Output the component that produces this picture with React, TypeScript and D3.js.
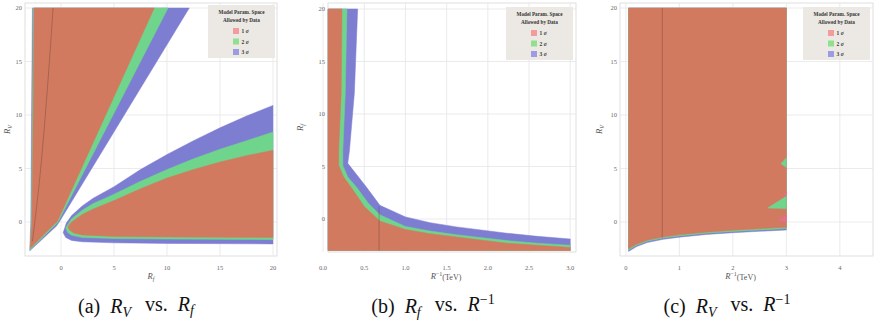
import React from "react";
import * as d3 from "d3";

type P = [number, number];

// ---------- Data ----------
const sigmaLabels = ["1 σ", "2 σ", "3 σ"];
const legendTitle = ["Model Param. Space", "Allowed by Data"];

// Panel (a): R_V vs R_f
const aTicksX = [0, 5, 10, 15, 20];
const aTicksY = [0, 5, 10, 15, 20];
const aWedgeBlue: P[] = [[-2.7, 20], [12.1, 20], [-0.2, -0.05], [-0.45, -0.4], [-2.95, -2.7], [-2.85, 0], [-2.78, 10]];
const aWedgeGreen: P[] = [[-2.62, 20], [10.1, 20], [-0.28, 0.0], [-0.55, -0.3], [-2.92, -2.6], [-2.8, 0], [-2.7, 10]];
const aWedgeRed: P[] = [[-2.55, 20], [8.8, 20], [-0.35, 0.05], [-0.62, -0.2], [-2.9, -2.45], [-2.75, 0], [-2.63, 10]];
const aLobeBlue: P[] = [[0.2, -1.0], [0.5, -0.1], [1, 0.6], [2, 1.5], [3, 2.2], [5, 3.3], [7.5, 4.9], [10, 6.3], [12.5, 7.6], [15, 8.8], [17.5, 9.9], [20, 10.9], [20, -2.05], [10, -2.0], [5, -1.95], [2, -1.85], [1, -1.72], [0.45, -1.45]];
const aLobeGreen: P[] = [[0.45, -0.55], [1, 0.3], [2, 1.1], [3, 1.7], [5, 2.6], [7.5, 3.8], [10, 4.9], [12.5, 5.9], [15, 6.8], [17.5, 7.6], [20, 8.4], [20, -1.65], [10, -1.6], [5, -1.55], [2, -1.45], [1, -1.25], [0.6, -0.95]];
const aLobeRed: P[] = [[0.65, -0.45], [1, 0.0], [2, 0.7], [3, 1.2], [5, 2.0], [7.5, 3.1], [10, 4.1], [12.5, 4.9], [15, 5.6], [17.5, 6.2], [20, 6.7], [20, -1.45], [10, -1.4], [5, -1.35], [2, -1.22], [1.2, -1.02], [0.8, -0.75]];
const aDarkLine: P[] = [[-0.75, 20], [-1.3, 12], [-1.9, 5], [-2.3, 1.4], [-2.7, -1.8]];

// Panel (b): R_f vs R^-1
const bTicksX = [0, 0.5, 1.0, 1.5, 2.0, 2.5, 3.0];
const bTicksY = [0, 5, 10, 15, 20];
const bBlue: P[] = [[0.06, 20], [0.42, 20], [0.38, 12], [0.32, 6.5], [0.3, 5.3], [0.4, 4.3], [0.53, 3.0], [0.69, 1.3], [1.0, 0.2], [1.3, -0.35], [1.62, -0.75], [2.23, -1.35], [2.6, -1.65], [3.0, -1.9], [3.0, -3.0], [0.06, -3.0]];
const bGreen: P[] = [[0.06, 20], [0.29, 20], [0.27, 12], [0.24, 6.5], [0.24, 5.1], [0.3, 4.0], [0.41, 3.0], [0.55, 1.5], [0.69, 0.4], [1.0, -0.7], [1.3, -1.15], [1.62, -1.5], [2.23, -2.05], [2.6, -2.3], [3.0, -2.5], [3.0, -3.0], [0.06, -3.0]];
const bRed: P[] = [[0.06, 20], [0.23, 20], [0.22, 12], [0.19, 6.5], [0.19, 5.1], [0.25, 4.0], [0.36, 2.8], [0.5, 1.2], [0.69, -0.2], [1.0, -1.0], [1.3, -1.4], [1.62, -1.7], [2.23, -2.3], [2.6, -2.5], [3.0, -2.7], [3.0, -3.0], [0.06, -3.0]];
const bDarkLine: P[] = [[0.68, -3.0], [0.68, 1.2]];

// Panel (c): R_V vs R^-1
const cTicksX = [0, 1, 2, 3, 4];
const cTicksY = [0, 5, 10, 15, 20];
const cBlue: P[] = [[0.05, 20], [3.0, 20], [3.0, -0.75], [2.5, -0.87], [2.0, -1.0], [1.5, -1.17], [1.0, -1.42], [0.7, -1.62], [0.4, -1.92], [0.2, -2.3], [0.05, -2.75]];
const cGreen: P[] = [[0.05, 20], [3.0, 20], [3.0, -0.62], [2.5, -0.75], [2.0, -0.88], [1.5, -1.05], [1.0, -1.3], [0.7, -1.5], [0.4, -1.8], [0.2, -2.18], [0.05, -2.62]];
const cRed: P[] = [[0.05, 20], [3.0, 20], [3.0, -0.5], [2.5, -0.63], [2.0, -0.77], [1.5, -0.95], [1.0, -1.2], [0.7, -1.4], [0.4, -1.7], [0.2, -2.07], [0.05, -2.5]];
const cGreenPatch1: P[] = [[2.9, 5.45], [3.0, 6.0], [3.0, 5.1]];
const cGreenPatch2: P[] = [[2.65, 1.3], [3.0, 2.4], [3.0, 1.25]];
const cPinkPatch1: P[] = [[2.85, 0.15], [3.0, 0.65], [3.0, 0.0]];
const cPinkPatch2: P[] = [[2.95, 2.55], [3.0, 2.8], [3.0, 2.45]];
const cDarkLine: P[] = [[0.68, 20], [0.68, -1.45]];

// ---------- Styling ----------
const RED = "#d27a60";
const GREEN = "#6fd48c";
const BLUE = "#7d7dd2";
const PINK = "#e46f8c";
const SW = ["#f29c9c", "#8fe08f", "#9c9ce2"];
const GRID = "#e6e6e6";
const FRAME = "#d8d8d8";
const TICK = "#6a6a6a";
const SERIF = "'Liberation Serif', 'Times New Roman', 'DejaVu Serif', serif";

type Region = { pts: P[]; fill: string };
type PanelCfg = {
  xDom: [number, number]; xRange: [number, number];
  yDom: [number, number]; yRange: [number, number];
  ticksX: number[]; ticksY: number[]; fmtX: (v: number) => string;
  regions: Region[]; darkLines: P[][];
  legend: [number, number];
  xLabel: "Rf" | "Rinv"; yLabel: "RV" | "Rf";
  yLabelX: number;
  caption: [number, string, string];
};

const panels: PanelCfg[] = [
  {
    xDom: [-3.4, 20.38], xRange: [25, 277], yDom: [-3.18, 20.47], yRange: [256, 3],
    ticksX: aTicksX, ticksY: aTicksY, fmtX: (v) => String(v),
    regions: [
      { pts: aWedgeBlue, fill: BLUE }, { pts: aWedgeGreen, fill: GREEN }, { pts: aWedgeRed, fill: RED },
      { pts: aLobeBlue, fill: BLUE }, { pts: aLobeGreen, fill: GREEN }, { pts: aLobeRed, fill: RED },
    ],
    darkLines: [aDarkLine], legend: [208, 5], xLabel: "Rf", yLabel: "RV", yLabelX: 10,
    caption: [138, "(a) ", "a"],
  },
  {
    xDom: [0.06, 3.07], xRange: [328, 576], yDom: [-3.14, 20.57], yRange: [252, 3],
    ticksX: bTicksX, ticksY: bTicksY, fmtX: (v) => v.toFixed(1),
    regions: [{ pts: bBlue, fill: BLUE }, { pts: bGreen, fill: GREEN }, { pts: bRed, fill: RED }],
    darkLines: [bDarkLine], legend: [506, 7], xLabel: "Rinv", yLabel: "Rf", yLabelX: 303,
    caption: [433, "(b) ", "b"],
  },
  {
    xDom: [-0.11, 4.62], xRange: [620, 873], yDom: [-3.18, 20.47], yRange: [256, 3],
    ticksX: cTicksX, ticksY: cTicksY, fmtX: (v) => String(v),
    regions: [
      { pts: cBlue, fill: BLUE }, { pts: cGreen, fill: GREEN }, { pts: cRed, fill: RED },
      { pts: cGreenPatch1, fill: GREEN }, { pts: cGreenPatch2, fill: GREEN },
      { pts: cPinkPatch1, fill: PINK }, { pts: cPinkPatch2, fill: PINK },
    ],
    darkLines: [cDarkLine], legend: [803, 7], xLabel: "Rinv", yLabel: "RV", yLabelX: 602,
    caption: [727, "(c) ", "c"],
  },
];

function Sym({ which }: { which: "RV" | "Rf" | "Rinv" }) {
  if (which === "RV")
    return (<><tspan fontStyle="italic">R</tspan><tspan fontStyle="italic" fontSize="0.72em" dy="0.25em">V</tspan></>);
  if (which === "Rf")
    return (<><tspan fontStyle="italic">R</tspan><tspan fontStyle="italic" fontSize="0.72em" dy="0.25em">f</tspan></>);
  return (<><tspan fontStyle="italic">R</tspan><tspan fontSize="0.72em" dy="-0.45em">−1</tspan></>);
}

function Panel({ cfg }: { cfg: PanelCfg }) {
  const x = d3.scaleLinear().domain(cfg.xDom).range(cfg.xRange);
  const y = d3.scaleLinear().domain(cfg.yDom).range(cfg.yRange);
  const area = d3.line<P>().x((d) => x(d[0])).y((d) => y(d[1])).curve(d3.curveLinearClosed);
  const line = d3.line<P>().x((d) => x(d[0])).y((d) => y(d[1])).curve(d3.curveBasis);
  const [x0, x1] = cfg.xRange;
  const [y0, y1] = cfg.yRange;
  const [lx, ly] = cfg.legend;
  const cx = (x0 + x1) / 2;
  const ff = { fontFamily: SERIF };
  return (
    <g>
      <rect x={x0} y={y1} width={x1 - x0} height={y0 - y1} fill="#fff" stroke={FRAME} strokeWidth={0.8} />
      {cfg.ticksX.map((t) => (
        <line key={"gx" + t} x1={x(t)} x2={x(t)} y1={y1} y2={y0} stroke={GRID} strokeWidth={0.8} />
      ))}
      {cfg.ticksY.map((t) => (
        <line key={"gy" + t} x1={x0} x2={x1} y1={y(t)} y2={y(t)} stroke={GRID} strokeWidth={0.8} />
      ))}
      {cfg.regions.map((r, i) => (
        <path key={"r" + i} d={area(r.pts) || ""} fill={r.fill} stroke={r.fill} strokeWidth={0.5} />
      ))}
      {cfg.darkLines.map((l, i) => (
        <path key={"dl" + i} d={line(l) || ""} fill="none" stroke="#5a3a30" strokeOpacity={0.4} strokeWidth={0.9} />
      ))}
      {cfg.ticksX.map((t) => (
        <text key={"tx" + t} x={x(t)} y={269.5} fontSize={6.5} fill={TICK} textAnchor="middle" style={ff}>
          {cfg.fmtX(t)}
        </text>
      ))}
      {cfg.ticksY.map((t) => (
        <text key={"ty" + t} x={x0 - 3} y={y(t) + 2.3} fontSize={6.5} fill={TICK} textAnchor="end" style={ff}>
          {t}
        </text>
      ))}
      <text x={cx - (cfg.xLabel === "Rinv" ? 6 : 0)} y={279} fontSize={8.5} fill="#555" textAnchor="middle" style={ff}>
        <Sym which={cfg.xLabel} />
        {cfg.xLabel === "Rinv" ? <tspan fontSize={8} dy="0.45em">(TeV)</tspan> : null}
      </text>
      <text transform={`translate(${cfg.yLabelX},${(y0 + y1) / 2}) rotate(-90)`} fontSize={8.5} fill="#555" textAnchor="middle" style={ff}>
        <Sym which={cfg.yLabel} />
      </text>
      <g>
        <rect x={lx} y={ly} width={67} height={53} fill="#ece9e4" />
        <text x={lx + 33.5} y={ly + 8.5} fontSize={5.2} fontWeight="bold" fill="#333" textAnchor="middle" style={ff}>{legendTitle[0]}</text>
        <text x={lx + 33.5} y={ly + 17} fontSize={5.2} fontWeight="bold" fill="#333" textAnchor="middle" style={ff}>{legendTitle[1]}</text>
        {sigmaLabels.map((s, i) => (
          <g key={s}>
            <rect x={lx + 25} y={ly + 23 + i * 10.5} width={6} height={6} fill={SW[i]} />
            <text x={lx + 33.5} y={ly + 28.3 + i * 10.5} fontSize={5.5} fontWeight="bold" fill="#333" style={ff}>
              {s.split(" ")[0]} <tspan fontStyle="italic">{s.split(" ")[1]}</tspan>
            </text>
          </g>
        ))}
      </g>
    </g>
  );
}

function Caption({ cx, prefix, which }: { cx: number; prefix: string; which: string }) {
  const parts: Record<string, ["RV" | "Rf", "Rf" | "Rinv"]> = { a: ["RV", "Rf"], b: ["Rf", "Rinv"], c: ["RV", "Rinv"] };
  const [l, r] = parts[which];
  const sub = (s: "RV" | "Rf") => (
    <><tspan fontStyle="italic">R</tspan><tspan fontStyle="italic" fontSize="0.7em" dy="0.3em">{s === "RV" ? "V" : "f"}</tspan><tspan dy="-0.3em">{"\u2009"}</tspan></>
  );
  return (
    <text x={cx} y={313} fontSize={20} fill="#111" textAnchor="middle" style={{ fontFamily: SERIF, wordSpacing: "5px" }}>
      {prefix}
      {sub(l)}
      <tspan> vs. </tspan>
      {r === "Rinv" ? (
        <><tspan fontStyle="italic">R</tspan><tspan fontSize="0.7em" dy="-0.5em">−1</tspan></>
      ) : sub(r)}
    </text>
  );
}

export default function App() {
  return (
    <svg width={874} height={322} style={{ position: "absolute", left: 0, top: 0, background: "#fff" }}>
      {panels.map((p, i) => (
        <g key={i}>
          <Panel cfg={p} />
          <Caption cx={p.caption[0]} prefix={p.caption[1]} which={p.caption[2]} />
        </g>
      ))}
    </svg>
  );
}
